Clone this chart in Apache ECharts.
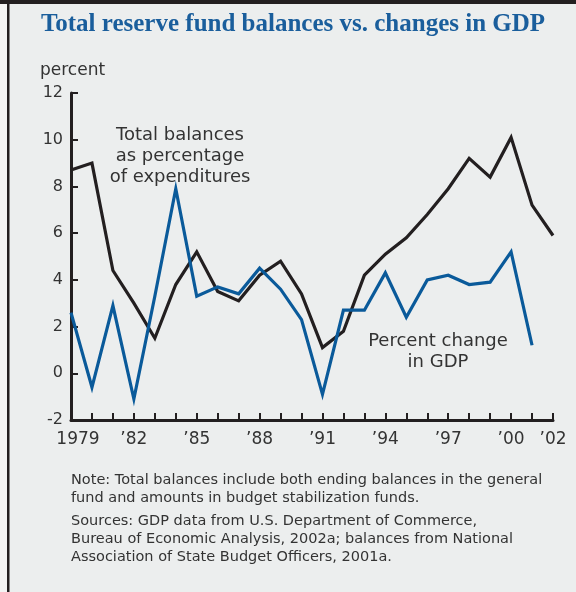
<!DOCTYPE html>
<html>
<head>
<meta charset="utf-8">
<script src="https://cdn.jsdelivr.net/npm/echarts@6/dist/echarts.min.js"></script>
<style>
  html, body { margin: 0; padding: 0; background: #eceeee; }
  #chart { width: 576px; height: 592px; }
</style>
</head>
<body>
<div id="chart"></div>
<script>
// Fiscal years on the horizontal axis
const years = ['1979','1980','1981','1982','1983','1984','1985','1986','1987','1988','1989','1990',
               '1991','1992','1993','1994','1995','1996','1997','1998','1999','2000','2001','2002'];

// Total reserve fund balances as percentage of expenditures
const totalBalances = [8.7, 9.0, 4.4, 3.0, 1.5, 3.8, 5.2, 3.5, 3.1, 4.2, 4.8, 3.4,
                       1.1, 1.8, 4.2, 5.1, 5.8, 6.8, 7.9, 9.2, 8.4, 10.1, 7.2, 5.9];

// Percent change in GDP (no 2002 value)
const gdpChange = [2.6, -0.6, 2.9, -1.1, 3.3, 7.9, 3.3, 3.7, 3.4, 4.5, 3.6, 2.3,
                   -0.9, 2.7, 2.7, 4.3, 2.4, 4.0, 4.2, 3.8, 3.9, 5.2, 1.2, null];

// Tick labels shown under the x axis
const xTickLabels = {
  '1979': '1979', '1982': '\u201982', '1985': '\u201985', '1988': '\u201988', '1991': '\u201991',
  '1994': '\u201994', '1997': '\u201997', '2000': '\u201900', '2002': '\u201902'
};

const yTicks = { min: -2, max: 12, step: 2 };

const noteLines = [
  'Note: Total balances include both ending balances in the general',
  'fund and amounts in budget stabilization funds.',
  'Sources: GDP data from U.S. Department of Commerce,',
  'Bureau of Economic Analysis, 2002a; balances from National',
  'Association of State Budget Officers, 2001a.'
];

const INK = '#231f20';
const BLUE = '#0a5a9a';
const TEXT = '#333333';
const SANS = 'DejaVu Sans';

const chart = echarts.init(document.getElementById('chart'));

const noteTops = [473, 491, 514, 532, 550];
const noteGraphics = noteLines.map((t, i) => ({
  type: 'text', left: 71, top: noteTops[i],
  style: { text: t, fill: TEXT, font: '14.5px "' + SANS + '"' }
}));

chart.setOption({
  backgroundColor: '#eceeee',
  animation: false,
  grid: { left: 71, right: 23, top: 93, bottom: 172 },
  xAxis: {
    type: 'category',
    data: years,
    boundaryGap: false,
    axisLine: { onZero: false, lineStyle: { color: INK, width: 3 } },
    axisTick: { inside: true, length: 7, interval: 0, lineStyle: { color: INK, width: 2 } },
    axisLabel: {
      interval: (idx, val) => val in xTickLabels,
      formatter: (val) => val === '1979' ? '{first|1979}' : xTickLabels[val],
      color: TEXT, fontFamily: SANS, fontSize: 17, margin: 11,
      rich: { first: { padding: [0, 0, 0, 14], color: TEXT, fontFamily: SANS, fontSize: 17 } }
    },
    splitLine: { show: false }
  },
  yAxis: {
    type: 'value',
    min: yTicks.min, max: yTicks.max, interval: yTicks.step,
    axisLine: { show: true, lineStyle: { color: INK, width: 3 } },
    axisTick: { show: true, inside: true, length: 7, lineStyle: { color: INK, width: 2 } },
    axisLabel: { color: TEXT, fontFamily: SANS, fontSize: 16, margin: 8 },
    splitLine: { show: false }
  },
  series: [
    {
      name: 'Total balances as percentage of expenditures',
      type: 'line', data: totalBalances, symbol: 'none',
      lineStyle: { color: INK, width: 3.2, join: 'miter' }, z: 2
    },
    {
      name: 'Percent change in GDP',
      type: 'line', data: gdpChange, symbol: 'none', connectNulls: false,
      lineStyle: { color: BLUE, width: 3.2, join: 'miter' }, z: 3
    }
  ],
  graphic: [
    { type: 'rect', left: 0, top: 0, shape: { width: 7, height: 592 }, style: { fill: '#f4f4f4' }, z: -1 },
    { type: 'rect', left: 7, top: 0, shape: { width: 2.5, height: 592 }, style: { fill: INK } },
    { type: 'rect', left: 0, top: 0, shape: { width: 576, height: 4 }, style: { fill: INK } },
    {
      type: 'text', x: 293, y: 12,
      style: { text: 'Total reserve fund balances vs. changes in GDP', fill: '#1a5e9c',
               font: 'bold 25px "Liberation Serif"', textAlign: 'center', textVerticalAlign: 'top' }
    },
    {
      type: 'text', left: 40, top: 62,
      style: { text: 'percent', fill: TEXT, font: '17px "' + SANS + '"' }
    },
    {
      type: 'text', x: 180, y: 125,
      style: { text: 'Total balances\nas percentage\nof expenditures', fill: TEXT,
               font: '18px "' + SANS + '"', textAlign: 'center', textVerticalAlign: 'top', lineHeight: 21 }
    },
    {
      type: 'text', x: 438, y: 331,
      style: { text: 'Percent change\nin GDP', fill: TEXT,
               font: '18px "' + SANS + '"', textAlign: 'center', textVerticalAlign: 'top', lineHeight: 21 }
    }
  ].concat(noteGraphics)
});
</script>
</body>
</html>
